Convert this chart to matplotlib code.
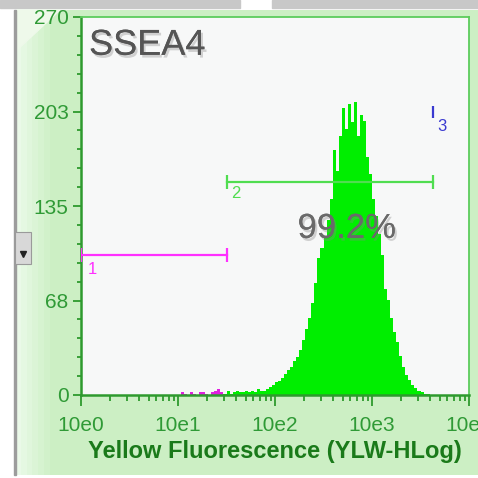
import numpy as np
import matplotlib
matplotlib.use("Agg")
import matplotlib.pyplot as plt
import matplotlib.patheffects as pe
from matplotlib.patches import Rectangle, Polygon
from matplotlib.ticker import FixedLocator, LogLocator, MultipleLocator, NullFormatter

plt.rcParams['font.family'] = ['Liberation Sans', 'DejaVu Sans']

# histogram counts, 128 log channels over 10^0 .. 10^4 (32 per decade)
counts = [0] * 33 + [
    2, 1, 0, 2, 1, 0, 2, 2, 1, 0, 2, 3, 4, 2,             # ch 33-46 (gate 1 side)
    1, 3, 1, 2, 3, 2, 2, 3, 2, 3, 2, 4, 3, 3, 4, 6,       # ch 47-62
    7, 9, 10, 12, 15, 18, 20, 24, 27, 32, 39, 47, 55, 66, # ch 63-76
    80, 98, 105, 112, 125, 140, 175, 160, 185, 205, 190,  # ch 77-87
    208, 195, 209, 185, 200, 196, 170, 158, 140, 128,     # ch 88-97
    115, 100, 76, 68, 55, 45, 38, 28, 20, 14, 11, 7, 5,   # ch 98-110
    3, 2, 1, 1,                                           # ch 111-114
]
counts = counts + [0] * (128 - len(counts))
channels_per_decade = 32
gate1_last_channel = 46

# markers: (start, end, height)
gate1 = (1.0, 32.0, 100)
gate2 = (32.0, 4300.0, 152)
gate3 = (4300.0, 202)

y_ticks = [0, 67.5, 135, 202.5, 270]
y_ticklabels = ['0', '68', '135', '203', '270']
x_ticks = [1, 10, 100, 1000, 10000]
x_ticklabels = ['10e0', '10e1', '10e2', '10e3', '10e4']

W = 478
fig = plt.figure(figsize=(4.78, 4.78), dpi=100)
fig.patch.set_facecolor('white')

# window chrome / panel background
bg = fig.add_axes([0, 0, 1, 1])
bg.set_xlim(0, W)
bg.set_ylim(W, 0)
bg.axis('off')
bg.add_patch(Rectangle((0, 0), 240, 8, color='#c8c8c8'))
bg.add_patch(Rectangle((272, 0), 206, 8, color='#c8c8c8'))
grad = np.ones((2, 80, 3))
left_col = np.array([0.92, 0.98, 0.91])
right_col = np.array([0.80, 0.94, 0.77])
for i in range(80):
    t = min(1.0, i / 6.0)
    grad[:, i] = left_col * (1 - t) + right_col * t
bg.imshow(grad, extent=(15, 478, 475, 10), aspect='auto', zorder=1)
bg.add_patch(Polygon([(17, 10), (60, 10), (17, 50)], color='#eef9ea', zorder=2))
bg.add_patch(Rectangle((14, 10), 2, 465, color='#9c9c9c', zorder=2))
bg.add_patch(Rectangle((15, 232), 16, 32, facecolor='#d8d8d8', edgecolor='#9a9a9a', lw=0.8, zorder=3))
bg.plot([23], [254], marker='v', color='#222222', ms=4, zorder=4)

ax = fig.add_axes([81 / W, 83 / W, 388 / W, 378 / W])
ax.set_facecolor('#f7f8f8')

edges = 10 ** (np.arange(len(counts) + 1) / channels_per_decade)
counts = np.array(counts)
mag = counts.copy()
mag[gate1_last_channel + 1:] = 0
grn = counts.copy()
grn[:gate1_last_channel + 1] = 0
ax.stairs(grn, edges, fill=True, color='#00ee00', lw=0, zorder=2)
ax.stairs(mag, edges, fill=True, color='#e020e0', lw=0, zorder=2)

ax.set_xscale('log')
ax.set_xlim(1, 1e4)
ax.set_ylim(0, 270)

# gate markers
ax.plot(gate1[:2], [gate1[2]] * 2, color='#ff30ff', lw=1.6, zorder=3)
ax.plot(gate1[:2], [gate1[2]] * 2, ls='', marker='|', ms=10, mew=1.6, color='#ff30ff', zorder=3)
ax.text(1.3, 90, '1', color='#ff30ff', fontsize=12, ha='center', va='center')
ax.plot(gate2[:2], [gate2[2]] * 2, color='#50dd50', lw=1.6, zorder=3)
ax.plot(gate2[:2], [gate2[2]] * 2, ls='', marker='|', ms=10, mew=1.6, color='#50dd50', zorder=3)
ax.text(39, 144, '2', color='#50dd50', fontsize=12, ha='center', va='center')
ax.plot([gate3[0]], [gate3[1]], ls='', marker='|', ms=8, mew=1.6, color='#3a3ad0', zorder=3)
ax.text(5300, 192, '3', color='#3a3ad0', fontsize=12, ha='center', va='center')

shadow = [pe.withSimplePatchShadow(offset=(1.5, -2), shadow_rgbFace='#888888', alpha=0.35), pe.Normal()]
ax.text(1.21, 243, 'SSEA4', fontsize=26, color='#555555', ha='left', va='baseline',
        path_effects=shadow, zorder=5)
ax.text(548, 119, '99.2%', fontsize=25, color='#6a6a6a', ha='center', va='center',
        path_effects=shadow, zorder=5)

# axes styling
tick_green = '#2f9a36'
for side in ['left', 'bottom']:
    ax.spines[side].set_color('#2e9a2e')
    ax.spines[side].set_linewidth(1.8)
for side in ['top', 'right']:
    ax.spines[side].set_color('#5ccc5c')
    ax.spines[side].set_linewidth(1.3)

ax.yaxis.set_major_locator(FixedLocator(y_ticks))
ax.set_yticklabels(y_ticklabels)
ax.yaxis.set_minor_locator(MultipleLocator(13.5))
ax.xaxis.set_major_locator(FixedLocator(x_ticks))
ax.set_xticklabels(x_ticklabels)
ax.xaxis.set_minor_locator(LogLocator(base=10, subs=np.arange(2, 10)))
ax.xaxis.set_minor_formatter(NullFormatter())

ax.tick_params(axis='y', which='major', length=6, width=1.3, color='#2e9a2e',
               labelcolor=tick_green, labelsize=15, pad=3)
ax.tick_params(axis='y', which='minor', length=3, width=1.3, color='#2e9a2e')
ax.tick_params(axis='x', which='major', length=8, width=1.3, color='#2e9a2e',
               labelcolor=tick_green, labelsize=15, pad=7)
ax.tick_params(axis='x', which='minor', length=4, width=1.3, color='#2e9a2e')
ax.tick_params(top=False, right=False)

ax.set_xlabel('Yellow Fluorescence (YLW-HLog)', fontsize=17, fontweight='bold',
              color='#1a7a1a', labelpad=4)

fig.savefig('out.png', dpi=100)
